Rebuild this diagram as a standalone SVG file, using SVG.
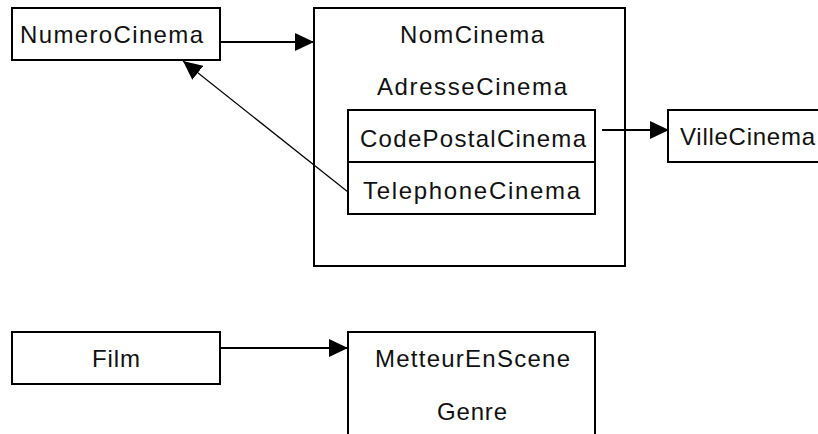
<svg xmlns="http://www.w3.org/2000/svg" width="818" height="434" viewBox="0 0 818 434">
<defs>
<style>
.box{fill:#fff;stroke:#000;stroke-width:2}
.t{font-family:"Liberation Sans",Arial,sans-serif;font-size:24px;fill:#111}
.c{stroke:#000;stroke-width:2;fill:none}
.d{stroke:#000;stroke-width:1.2;fill:none}
</style>
<marker id="ah" markerUnits="userSpaceOnUse" markerWidth="20" markerHeight="18" refX="19" refY="9" orient="auto" viewBox="0 0 20 18">
<path d="M0,0 L19,9 L0,18 z" fill="#000"/>
</marker>
</defs>
<rect width="818" height="434" fill="#fff"/>
<g id="n-numero">
<rect class="box" x="12" y="8" width="208" height="52"/>
<text class="t" x="20" y="43" textLength="183" lengthAdjust="spacing">NumeroCinema</text>
</g>
<g id="n-cinema">
<rect class="box" x="314" y="8" width="311" height="258"/>
<text class="t" x="400" y="43" textLength="144" lengthAdjust="spacing">NomCinema</text>
<text class="t" x="377" y="95" textLength="190" lengthAdjust="spacing">AdresseCinema</text>
</g>
<g id="n-codepostal">
<rect class="box" x="348" y="110" width="247" height="52"/>
<text class="t" x="360" y="147" textLength="226" lengthAdjust="spacing">CodePostalCinema</text>
</g>
<g id="n-telephone">
<rect class="box" x="348" y="162" width="247" height="52"/>
<text class="t" x="363" y="199" textLength="217" lengthAdjust="spacing">TelephoneCinema</text>
</g>
<g id="n-ville">
<rect class="box" x="668" y="110" width="170" height="52"/>
<text class="t" x="680" y="145" textLength="135" lengthAdjust="spacing">VilleCinema</text>
</g>
<g id="n-film">
<rect class="box" x="12" y="332" width="208" height="52"/>
<text class="t" x="92" y="367" textLength="48" lengthAdjust="spacing">Film</text>
</g>
<g id="n-metteur">
<rect class="box" x="348" y="332" width="247" height="120"/>
<text class="t" x="375" y="367" textLength="195" lengthAdjust="spacing">MetteurEnScene</text>
<text class="t" x="437" y="420" textLength="70" lengthAdjust="spacing">Genre</text>
</g>
<g id="connectors">
<line class="c" x1="220" y1="42" x2="314" y2="42" marker-end="url(#ah)"/>
<line class="c" x1="602" y1="130" x2="669" y2="130" marker-end="url(#ah)"/>
<line class="d" x1="348" y1="192" x2="183" y2="61" marker-end="url(#ah)"/>
<line class="c" x1="220" y1="348" x2="348" y2="348" marker-end="url(#ah)"/>
</g>
</svg>
